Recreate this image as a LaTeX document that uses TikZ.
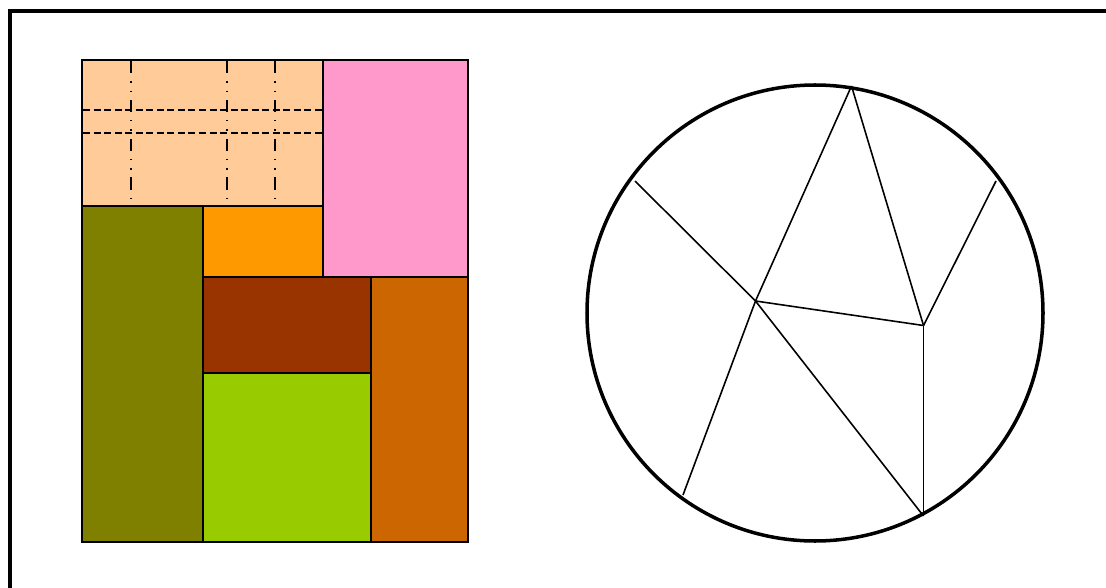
\documentclass[tikz,border=0pt]{standalone}
\usetikzlibrary{calc}
\definecolor{tilePeach}{RGB}{255,204,153}
\definecolor{tilePink}{RGB}{255,153,204}
\definecolor{tileOlive}{RGB}{128,128,0}
\definecolor{tileOrange}{RGB}{255,153,0}
\definecolor{tileBrown}{RGB}{153,51,0}
\definecolor{tileRust}{RGB}{204,102,0}
\definecolor{tileLime}{RGB}{153,204,0}
\begin{document}
\begin{tikzpicture}[x=0.02cm, y=-0.02cm, tile/.style={draw, line width=1.3pt}, cut/.style={line width=0.9pt}, grid/.style={line width=0.7pt}]
		\useasboundingbox (0,0) rectangle (1106,588);
		% Frame
		\draw[line width=2.1pt] (10,590) -- (10,11) -- (1110,11);
		% Blocks
		\draw[tile, fill=tilePeach] (82,60) rectangle (323,206);
		\draw[tile, fill=tilePink] (323,60) rectangle (468,277);
		\draw[tile, fill=tileOlive] (82,206) rectangle (203,542);
		\draw[tile, fill=tileOrange] (203,206) rectangle (323,277);
		\draw[tile, fill=tileBrown] (203,277) rectangle (371,373);
		\draw[tile, fill=tileRust] (371,277) rectangle (468,542);
		\draw[tile, fill=tileLime] (203,373) rectangle (371,542);
		% Grid in peach block
		\foreach \gx in {131,227,275}
			\draw[grid, dash pattern=on 7pt off 4.5pt on 0.8pt off 4.5pt on 0.8pt off 4.5pt] (\gx,61) -- (\gx,205);
		\foreach \gy in {110,133}
			\draw[grid, dash pattern=on 4pt off 2pt] (83,\gy) -- (322,\gy);
		% Circle
		\draw[line width=2pt] (815,313) circle (228);
		\coordinate (top) at (851.5,86);
		\coordinate (lu) at (635,181);
		\coordinate (ru) at (996,181);
		\coordinate (a) at (755.5,301);
		\coordinate (b) at (923.5,325.5);
		\coordinate (lb) at (683,495);
		\coordinate (rb) at (923.5,516);
		\draw[cut] (top) -- (a);
		\draw[cut] (top) -- (b);
		\draw[cut] (lu) -- (a);
		\draw[cut] (ru) -- (b);
		\draw[cut] (a) -- (b);
		\draw[cut] (a) -- (lb);
		\draw[cut] (a) -- (rb);
		\draw[cut] (b) -- (rb);
	\end{tikzpicture}
\end{document}
